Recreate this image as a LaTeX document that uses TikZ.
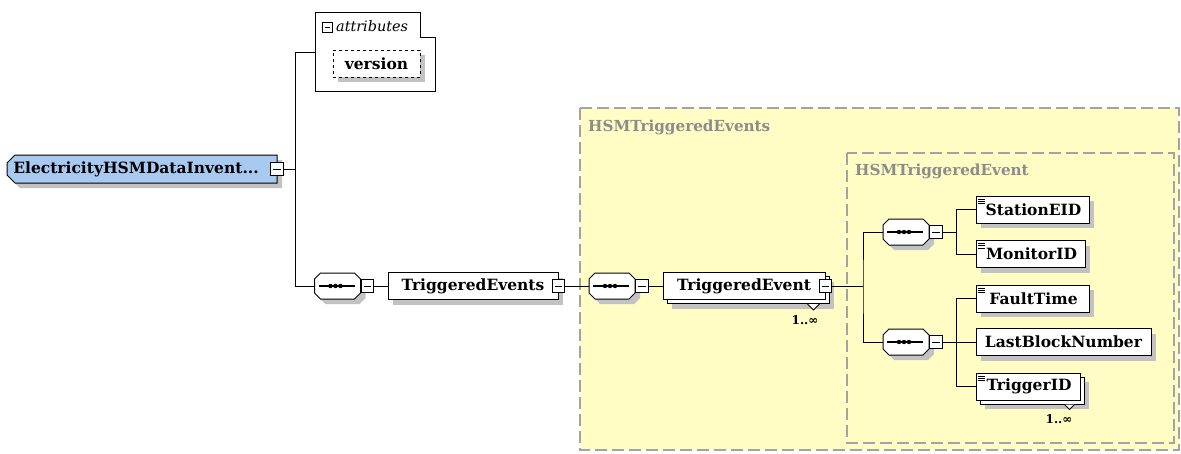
\documentclass[tikz,border=0pt]{standalone}
\usepackage{fontspec}
\setmainfont{DejaVu Serif}
\usetikzlibrary{shadows}

\definecolor{rootblue}{HTML}{A8CAF0}
\definecolor{grpyellow}{HTML}{FFFDC4}
\definecolor{shadegray}{HTML}{C2C2C2}
\definecolor{grpgray}{HTML}{8C8C8C}

\newcommand{\elfont}{\bfseries\fontsize{15.5}{17}\selectfont}

\tikzset{
  shade box/.style={drop shadow={shadow xshift=5pt, shadow yshift=-5pt, fill=shadegray, opacity=1}},
  box/.style={draw, line width=1pt, fill=white, font=\elfont, inner sep=0pt, minimum height=27pt},
  elem/.style={box, shade box},
  mbox/.style={draw, line width=1pt, fill=white, minimum size=12.5pt, inner sep=0pt,
    path picture={\draw[line width=1pt] ([xshift=2.5pt]path picture bounding box.west) -- ([xshift=-2.5pt]path picture bounding box.east);}},
  link/.style={line width=1pt},
  grp/.style={draw=grpgray!80, line width=1.3pt, dash pattern=on 12pt off 5pt, fill=grpyellow},
  grplbl/.style={font=\bfseries\fontsize{15.2}{17}\selectfont, text=grpgray, anchor=west, inner sep=0pt},
  mult/.style={font=\bfseries\fontsize{12}{13}\selectfont, inner sep=0pt},
}

% three short lines in the corner of a simple element
\newcommand{\txticon}[1]{%
  \foreach \k in {3.5,5.8,8.1}
    \draw[line width=0.8pt] ([xshift=2.5pt,yshift=-\k pt]#1.north west) -- ++(7,0);}

% sequence compositor: name, x, y
\newcommand{\octpath}{(-17,-13) -- (17,-13) -- (23,-7) -- (23,7) -- (17,13) -- (-17,13) -- (-23,7) -- (-23,-7) -- cycle}
\newcommand{\seqbox}[3]{%
  \begin{scope}[shift={(#2,#3)}]
    \fill[shadegray, shift={(5,5)}] \octpath;
    \draw[line width=1pt, fill=white] \octpath;
    \draw[line width=1.2pt] (-19,0) -- (17,0);
    \foreach \d in {-7,-2,3} \fill (\d,0) circle (2.2pt);
    \node[minimum width=46pt, minimum height=26pt, inner sep=0pt] (#1) at (0,0) {};
  \end{scope}}

\begin{document}
\begin{tikzpicture}[x=1pt,y=-1pt]
  \fill[white] (0,0) rectangle (1181,453);
  \useasboundingbox (0,0) rectangle (1181,453);

  % groups
  \draw[grp] (580,108) rectangle (1179,450);
  \node[grplbl] (gouter) at (588,127) {HSMTriggeredEvents};
  \draw[grp] (847,153) rectangle (1174,443);
  \node[grplbl] (ginner) at (855,171) {HSMTriggeredEvent};

  % root element
  \fill[shadegray] (20,160) -- (282,160) -- (282,188) -- (20,188) -- (12,180) -- (12,168) -- cycle;
  \draw[line width=1pt, fill=rootblue] (15,155) -- (277,155) -- (277,183) -- (15,183) -- (7,175) -- (7,163) -- cycle;
  \node[font=\elfont, inner sep=0pt, minimum width=270pt, minimum height=28pt] (root) at (142,169) {\hspace{-12pt}ElectricityHSMDataInvent...};
  \node[mbox] (rootm) at (root.east) {};

  % attributes
  \draw[line width=1pt, fill=white] (315,12) -- (420,12) -- (420,37) -- (435,37) -- (435,91) -- (315,91) -- cycle;
  \coordinate (attrL) at (315,52);
  \node[mbox, minimum size=10pt] (attrm) at (327,27) {};
  \node[font=\itshape\fontsize{14.4}{16}\selectfont, anchor=west, inner sep=0pt] (attrlbl) at (336,26) {attributes};
  \node[elem, dashed, line width=0.9pt, minimum width=87pt] (ver) at (376.5,63.5) {version};

  % first sequence
  \seqbox{seqa}{337.5}{286}
  \node[mbox, anchor=west] (seqam) at (seqa.east) {};
  \node[elem, minimum width=170pt] (tes) at (473,286) {TriggeredEvents};
  \node[mbox] (tesm) at (tes.east) {};

  % second sequence
  \seqbox{seqb}{612}{286}
  \node[mbox, anchor=west] (seqbm) at (seqb.east) {};
  \node[elem, minimum width=162pt] (teback) at (748,290) {};
  \node[box, minimum width=162pt] (te) at (744,286) {TriggeredEvent};
  \node[mbox] (tem) at (te.east) {};
  \draw[line width=0.8pt, fill=white] ([xshift=-22pt]teback.south east) -- ++(6,6) -- ++(6,-6);
  \node[mult] (temult) at (805,320) {1..∞};

  % inner sequences
  \seqbox{seqc}{906}{232}
  \node[mbox, anchor=west] (seqcm) at (seqc.east) {};
  \seqbox{seqd}{906}{342}
  \node[mbox, anchor=west] (seqdm) at (seqd.east) {};

  % leaf elements
  \node[elem, minimum width=113pt] (stn) at (1032.5,209.5) {\hspace{2pt}StationEID};
  \node[elem, minimum width=109pt] (mon) at (1030.5,254) {\hspace{2pt}MonitorID};
  \node[elem, minimum width=113pt] (flt) at (1032.5,298.5) {\hspace{2pt}FaultTime};
  \node[elem, minimum width=175pt] (lbn) at (1063.5,342) {LastBlockNumber};
  \node[elem, minimum width=104pt] (trgback) at (1032,390.5) {};
  \node[box, minimum width=104pt] (trg) at (1028,386.5) {\hspace{2pt}TriggerID};
  \draw[line width=0.8pt, fill=white] ([xshift=-20pt]trgback.south east) -- ++(5,5) -- ++(5,-5);
  \node[mult] (trgmult) at (1059,419) {1..∞};
  \foreach \n in {stn,mon,flt,trg} \txticon{\n};

  % connectors
  \coordinate (rj) at (295,169);
  \coordinate (rt) at (295,52);
  \coordinate (rb) at (295,286);
  \coordinate (jm) at (863,286);
  \coordinate (jc) at (956,232);
  \coordinate (jd) at (956,342);
  \draw[link] (rootm.east) -- (rj);
  \draw[link] (rt) -- (rb);
  \draw[link] (rt) -- (attrL);
  \draw[link] (rb) -- (seqa.west);
  \draw[link] (seqam.east) -- (tes.west);
  \draw[link] (tesm.east) -- (seqb.west);
  \draw[link] (seqbm.east) -- (te.west);
  \draw[link] (tem.east) -- (jm);
  \draw[link] (seqc.west) -| (jm) |- (seqd.west);
  \draw[link] (seqcm.east) -- (jc);
  \draw[link] (stn.west) -| (jc) |- (mon.west);
  \draw[link] (seqdm.east) -- (lbn.west);
  \draw[link] (flt.west) -| (jd) |- (trg.west);
\end{tikzpicture}
\end{document}
